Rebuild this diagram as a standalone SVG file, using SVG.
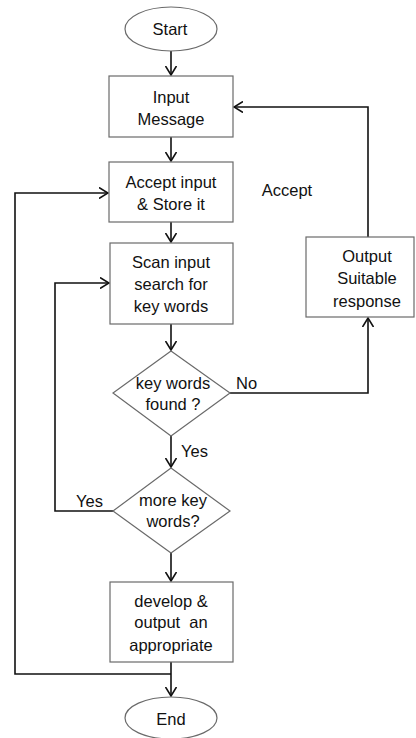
<svg xmlns="http://www.w3.org/2000/svg" width="416" height="738" viewBox="0 0 416 738">
<style>
  .shape { fill: #ffffff; stroke: #6a6a6a; stroke-width: 1.2; }
  .conn { fill: none; stroke: #111111; stroke-width: 1.6; }
  text { font-family: "Liberation Sans", Arial, sans-serif; font-size: 16.5px; fill: #111111; text-anchor: middle; }
  .lbl { text-anchor: start; }
</style>
<defs>
  <marker id="arr" viewBox="0 0 10 12" markerWidth="10" markerHeight="12" refX="9" refY="6" orient="auto" markerUnits="userSpaceOnUse">
    <path d="M0,0.5 L9,6 L0,11.5" fill="none" stroke="#111111" stroke-width="1.6"/>
  </marker>
</defs>
<rect width="416" height="738" fill="#ffffff"/>

<g id="connectors">
  <path class="conn" d="M171,51 V75" marker-end="url(#arr)"/>
  <path class="conn" d="M171,137 V161" marker-end="url(#arr)"/>
  <path class="conn" d="M171,222 V242" marker-end="url(#arr)"/>
  <path class="conn" d="M171,324 V350" marker-end="url(#arr)"/>
  <path class="conn" d="M171,436 V467" marker-end="url(#arr)"/>
  <path class="conn" d="M171,553 V581" marker-end="url(#arr)"/>
  <path class="conn" d="M171,662 V696" marker-end="url(#arr)"/>
  <path class="conn" d="M171,674 H15 V193 H108" marker-end="url(#arr)"/>
  <path class="conn" d="M113,511 H55 V283 H109" marker-end="url(#arr)"/>
  <path class="conn" d="M230,393 H368 V318" marker-end="url(#arr)"/>
  <path class="conn" d="M368,237 V107 H234" marker-end="url(#arr)"/>
</g>

<g id="start">
  <ellipse class="shape" cx="171" cy="29" rx="46" ry="22"/>
  <text x="170" y="35">Start</text>
</g>
<g id="input-message">
  <rect class="shape" x="109" y="76" width="124" height="61"/>
  <text x="171" y="103">Input</text>
  <text x="171" y="125">Message</text>
</g>
<g id="accept-input">
  <rect class="shape" x="109" y="162" width="124" height="60"/>
  <text x="171" y="188">Accept input</text>
  <text x="171" y="210">&amp; Store it</text>
</g>
<g id="accept-label">
  <text x="287" y="196">Accept</text>
</g>
<g id="scan-input">
  <rect class="shape" x="110" y="243" width="123" height="81"/>
  <text x="171" y="268">Scan input</text>
  <text x="171" y="290">search for</text>
  <text x="171" y="312">key words</text>
</g>
<g id="output-response">
  <rect class="shape" x="306" y="237" width="108" height="80"/>
  <text x="367" y="262">Output</text>
  <text x="367" y="284">Suitable</text>
  <text x="367" y="307">response</text>
</g>
<g id="key-words-found">
  <polygon class="shape" points="171,351 230,393 171,436 113,393"/>
  <text x="173" y="389">key words</text>
  <text x="173" y="410">found ?</text>
</g>
<g id="more-key-words">
  <polygon class="shape" points="171,468 230,511 171,553 113,511"/>
  <text x="173" y="506">more key</text>
  <text x="173" y="527">words?</text>
</g>
<g id="develop-output">
  <rect class="shape" x="110" y="582" width="123" height="80"/>
  <text x="171" y="607">develop &amp;</text>
  <text x="171" y="628" xml:space="preserve">output  an</text>
  <text x="171" y="651">appropriate</text>
</g>
<g id="end">
  <ellipse class="shape" cx="171" cy="718" rx="46" ry="21"/>
  <text x="171" y="725">End</text>
</g>
<g id="edge-labels">
  <text class="lbl" x="236" y="389">No</text>
  <text class="lbl" x="181" y="457">Yes</text>
  <text class="lbl" x="76" y="507">Yes</text>
</g>
</svg>
